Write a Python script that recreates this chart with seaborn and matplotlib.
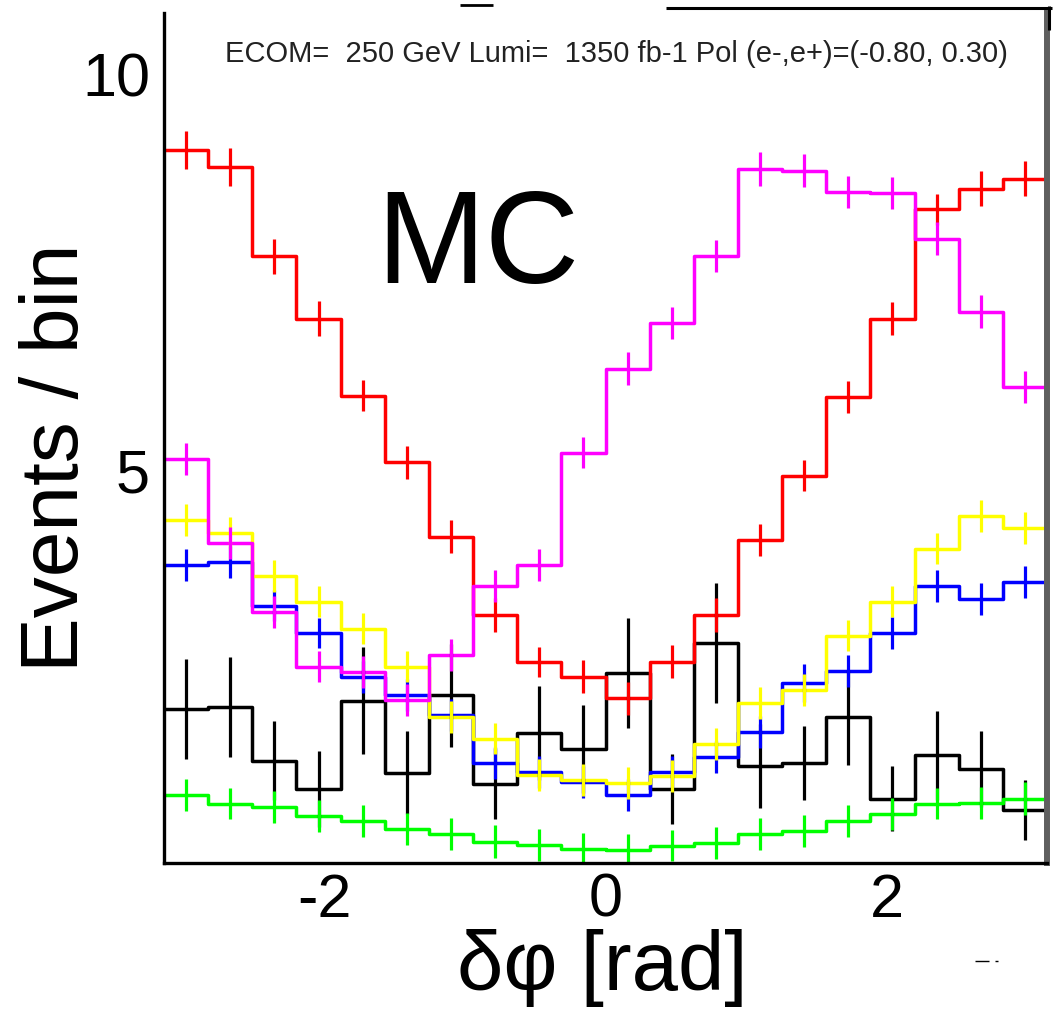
import numpy as np
import pandas as pd
import matplotlib
matplotlib.use("Agg")
import matplotlib.pyplot as plt
import seaborn as sns
from matplotlib.lines import Line2D

# ---------------- data ----------------
n_bins = 20
red = [9.05, 8.83, 7.71, 6.92, 5.95, 5.11, 4.17, 3.18, 2.59, 2.40,
       2.13, 2.59, 3.18, 4.13, 4.94, 5.93, 6.92, 8.30, 8.56, 8.69]
red_err = [0.24, 0.24, 0.22, 0.22, 0.20, 0.21, 0.21, 0.21, 0.19, 0.21,
           0.21, 0.21, 0.21, 0.20, 0.20, 0.20, 0.21, 0.20, 0.22, 0.22]
magenta = [5.15, 4.09, 3.22, 2.53, 2.46, 2.11, 2.68, 3.55, 3.81, 5.23,
           6.29, 6.87, 7.71, 8.81, 8.79, 8.52, 8.51, 7.93, 7.01, 6.06]
magenta_err = [0.20, 0.20, 0.20, 0.20, 0.20, 0.20, 0.20, 0.20, 0.20, 0.20,
               0.21, 0.20, 0.20, 0.21, 0.21, 0.20, 0.20, 0.21, 0.21, 0.20]
blue = [3.81, 3.85, 3.30, 2.95, 2.40, 2.17, 1.92, 1.31, 1.20, 1.07,
        0.91, 1.20, 1.39, 1.70, 2.32, 2.47, 2.95, 3.55, 3.38, 3.60]
blue_err = [0.20, 0.20, 0.20, 0.19, 0.20, 0.20, 0.20, 0.20, 0.20, 0.20,
            0.20, 0.20, 0.20, 0.20, 0.24, 0.20, 0.20, 0.20, 0.20, 0.20]
yellow = [4.38, 4.22, 3.67, 3.35, 3.01, 2.53, 1.89, 1.62, 1.16, 1.10,
          1.06, 1.15, 1.55, 2.07, 2.23, 2.92, 3.35, 4.02, 4.43, 4.28]
yellow_err = [0.20, 0.20, 0.20, 0.20, 0.20, 0.20, 0.20, 0.20, 0.20, 0.20,
              0.20, 0.20, 0.20, 0.20, 0.20, 0.20, 0.20, 0.20, 0.20, 0.20]
green = [0.91, 0.80, 0.76, 0.64, 0.58, 0.48, 0.42, 0.32, 0.28, 0.23,
         0.21, 0.27, 0.30, 0.42, 0.45, 0.58, 0.67, 0.80, 0.81, 0.86]
green_err = [0.20, 0.20, 0.20, 0.20, 0.20, 0.20, 0.20, 0.21, 0.20, 0.20,
             0.21, 0.20, 0.20, 0.20, 0.20, 0.20, 0.20, 0.20, 0.20, 0.21]
black = [1.99, 2.02, 1.34, 0.98, 2.10, 1.19, 2.17, 1.05, 1.69, 1.49,
         2.45, 0.98, 2.83, 1.28, 1.31, 1.89, 0.86, 1.41, 1.24, 0.72]
black_err = [0.63, 0.63, 0.50, 0.48, 0.68, 0.52, 0.65, 0.45, 0.59, 0.56,
             0.69, 0.44, 0.76, 0.53, 0.47, 0.60, 0.41, 0.56, 0.48, 0.38]

series_names = ["black", "green", "blue", "yellow", "red", "magenta"]
series_vals = {"black": black, "green": green, "blue": blue,
               "yellow": yellow, "red": red, "magenta": magenta}
series_errs = {"black": black_err, "green": green_err, "blue": blue_err,
               "yellow": yellow_err, "red": red_err, "magenta": magenta_err}
colors = {"black": "#000000", "green": "#00ff00", "blue": "#0000ff",
          "yellow": "#ffff00", "red": "#ff0000", "magenta": "#ff00ff"}

x_ticks = [-2, 0, 2]
y_ticks = [5, 10]
x_label = "δφ [rad]"
y_label = "Events / bin"
info_text = "ECOM=  250 GeV Lumi=  1350 fb-1 Pol (e-,e+)=(-0.80, 0.30)"

# ---------------- build tables ----------------
edges = np.linspace(-np.pi, np.pi, n_bins + 1)
centers = 0.5 * (edges[:-1] + edges[1:])
rows = []
for name in series_names:
    v = list(series_vals[name]) + [series_vals[name][-1]]
    for xe, ye in zip(edges, v):
        rows.append({"dphi": xe, "events": ye, "sample": name})
df = pd.DataFrame(rows)

# ---------------- style ----------------
sns.set_style("white")
plt.rcParams["font.family"] = ["Liberation Sans", "DejaVu Sans"]

W, H = 1056, 1010
fig = plt.figure(figsize=(W / 100, H / 100), dpi=100)
L, R, B, T = 164, 1047, 863, 13
ax = fig.add_axes([L / W, (H - B) / H, (R - L) / W, (B - T) / H])

sns.lineplot(data=df, x="dphi", y="events", hue="sample",
             hue_order=series_names, palette=colors, drawstyle="steps-post",
             estimator=None, sort=False, legend=False, linewidth=2.5, ax=ax)

for i, name in enumerate(series_names):
    ax.errorbar(centers, series_vals[name], yerr=series_errs[name], fmt="none",
                ecolor=colors[name], elinewidth=2.3, capsize=0, zorder=2 + i * 0.1)

ax.set_xlim(-np.pi, np.pi)
ax.set_ylim(0.05, 10.78)
ax.set_xticks(x_ticks)
ax.set_xticklabels([str(t) for t in x_ticks])
ax.set_yticks(y_ticks)
ax.set_yticklabels([str(t) for t in y_ticks])
ax.tick_params(axis="x", direction="in", length=16.5, width=2.2,
               labelsize=44, pad=7, colors="black")
ax.tick_params(axis="y", direction="in", length=20, width=2.2,
               labelsize=44, pad=10, colors="black")

for s in ["left", "bottom"]:
    ax.spines[s].set_color("black")
    ax.spines[s].set_linewidth(2.4)
ax.spines["top"].set_visible(False)
ax.spines["right"].set_color("#5f5f5f")
ax.spines["right"].set_linewidth(4.3)

ax.set_xlabel(x_label, fontsize=60, color="black")
ax.xaxis.set_label_coords((602 - L) / (R - L), (B - 929) / (B - T))
ax.set_ylabel(y_label, fontsize=59, color="black")
ax.yaxis.set_label_coords((95 - L) / (R - L), (B - 458) / (B - T))

fig.text(225 / W, 1 - 62 / H, info_text, fontsize=21, color="#222222",
         ha="left", va="baseline")
fig.text(376 / W, 1 - 283 / H, "MC", fontsize=94, color="black",
         ha="left", va="baseline")

# frame fragments of the original picture
def fline(x0, y0, x1, y1, lw, color="black"):
    fig.add_artist(Line2D([x0 / W, x1 / W], [1 - y0 / H, 1 - y1 / H],
                          transform=fig.transFigure, color=color, lw=lw,
                          solid_capstyle="butt"))

fline(666, 7.5, 1052, 7.5, 2.2)
fline(1049, 6, 1049, 30, 2.2)
fline(460, 4.5, 493, 4.5, 2.0)
fline(975, 961, 989, 961, 1.0)
fline(995, 961, 998, 961, 1.0)

fig.savefig("out.png", dpi=100)
